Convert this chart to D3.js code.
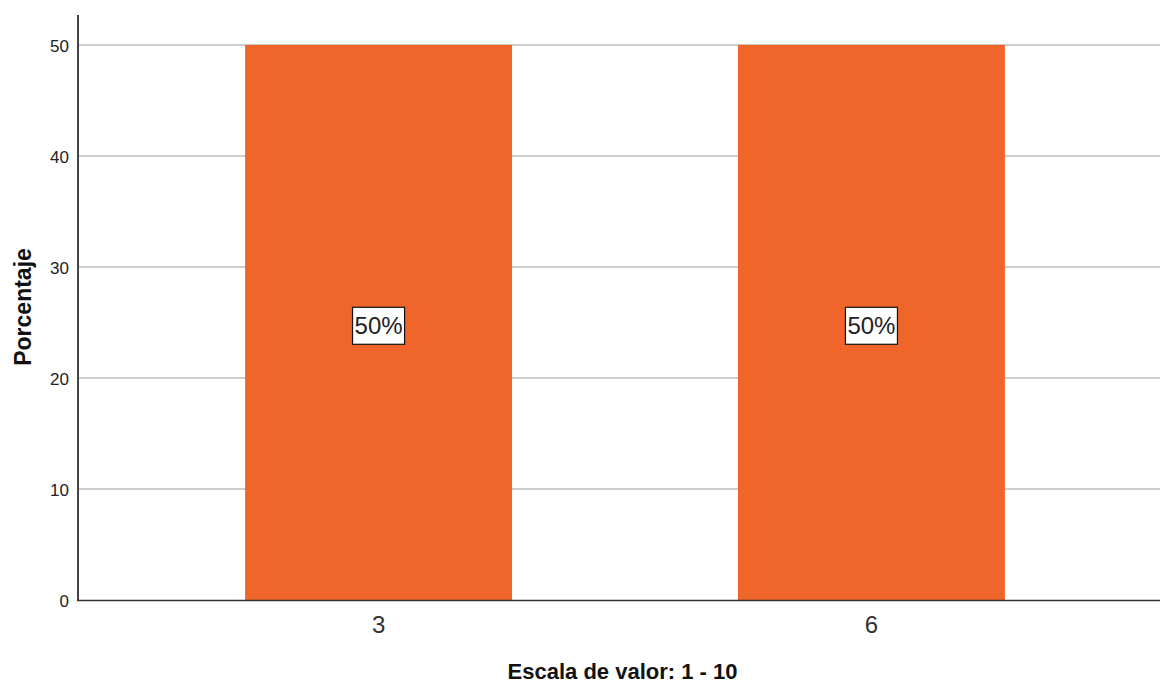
<!DOCTYPE html>
<html>
<head>
<meta charset="utf-8">
<script src="https://cdn.jsdelivr.net/npm/d3@7"></script>
<style>
  html, body { margin: 0; padding: 0; background: #fff; }
  svg { display: block; font-family: "Liberation Sans", Arial, sans-serif; }
</style>
</head>
<body>
<svg id="chart" width="1160" height="684"></svg>
<script>
const categories = ["3", "6"];
const percentages = [50, 50];
const yTicks = [0, 10, 20, 30, 40, 50];
const xTitle = "Escala de valor: 1 - 10";
const yTitle = "Porcentaje";

(function () {
const data = categories.map((c, i) => ({ cat: c, value: percentages[i] }));

const W = 1160, H = 684;
const svg = d3.select("#chart");

const mLeft = 78, mBottom = 600, mTop = 15;
const yMax = 52.7;

const x = d3.scaleBand()
  .domain(categories)
  .range([mLeft, 1172])
  .paddingInner(0.4584)
  .paddingOuter(0.339);

const y = d3.scaleLinear()
  .domain([0, yMax])
  .range([mBottom, mTop]);

// gridlines
svg.append("g")
  .selectAll("line")
  .data(yTicks.filter(d => d > 0))
  .join("line")
  .attr("x1", mLeft)
  .attr("x2", W)
  .attr("y1", d => y(d))
  .attr("y2", d => y(d))
  .attr("stroke", "#bdbdbd")
  .attr("stroke-width", 1.6);

// bars
svg.append("g")
  .selectAll("rect")
  .data(data)
  .join("rect")
  .attr("x", d => x(d.cat))
  .attr("width", x.bandwidth())
  .attr("y", d => y(d.value))
  .attr("height", d => y(0) - y(d.value))
  .attr("fill", "#f06529");

// value labels
const lab = svg.append("g")
  .selectAll("g")
  .data(data)
  .join("g")
  .attr("transform", d => `translate(${x(d.cat) + x.bandwidth() / 2},${y(d.value / 2) + 3.3})`);

lab.append("rect")
  .attr("x", -26)
  .attr("y", -18.5)
  .attr("width", 52)
  .attr("height", 37)
  .attr("fill", "#fff")
  .attr("stroke", "#111")
  .attr("stroke-width", 1.2);

lab.append("text")
  .attr("text-anchor", "middle")
  .attr("y", 8.7)
  .attr("font-size", 24)
  .attr("fill", "#222")
  .text(d => d.value + "%");

// y axis
const yAxis = svg.append("g")
  .attr("transform", `translate(${mLeft},0)`)
  .call(d3.axisLeft(y).tickValues(yTicks).tickSize(0).tickPadding(9).tickFormat(d3.format("d")));
yAxis.select(".domain").remove();
yAxis.selectAll("text")
  .attr("font-size", 17)
  .attr("font-family", "Liberation Sans, Arial, sans-serif")
  .attr("fill", "#222")
  .attr("dy", "0.55em")
  .attr("y", -3);
yAxis.append("line")
  .attr("x1", 0).attr("x2", 0)
  .attr("y1", y(yMax)).attr("y2", y(0) + 1)
  .attr("stroke", "#444")
  .attr("stroke-width", 2);

// x axis
const xAxis = svg.append("g")
  .attr("transform", `translate(0,${mBottom})`)
  .call(d3.axisBottom(x).tickSize(0).tickPadding(0));
xAxis.select(".domain").remove();
xAxis.selectAll("text")
  .attr("font-size", 24)
  .attr("font-family", "Liberation Sans, Arial, sans-serif")
  .attr("fill", "#333")
  .attr("dy", null)
  .attr("y", 33);
xAxis.append("line")
  .attr("x1", mLeft - 1).attr("x2", W)
  .attr("y1", 0.5).attr("y2", 0.5)
  .attr("stroke", "#333")
  .attr("stroke-width", 1.6);

// axis titles
svg.append("text")
  .attr("x", (508 + 737) / 2)
  .attr("y", 679)
  .attr("text-anchor", "middle")
  .attr("font-size", 22)
  .attr("font-weight", "bold")
  .attr("fill", "#111")
  .text(xTitle);

svg.append("text")
  .attr("transform", `translate(31,307) rotate(-90)`)
  .attr("text-anchor", "middle")
  .attr("font-size", 23)
  .attr("font-weight", "bold")
  .attr("fill", "#111")
  .text(yTitle);
})();
</script>
</body>
</html>
